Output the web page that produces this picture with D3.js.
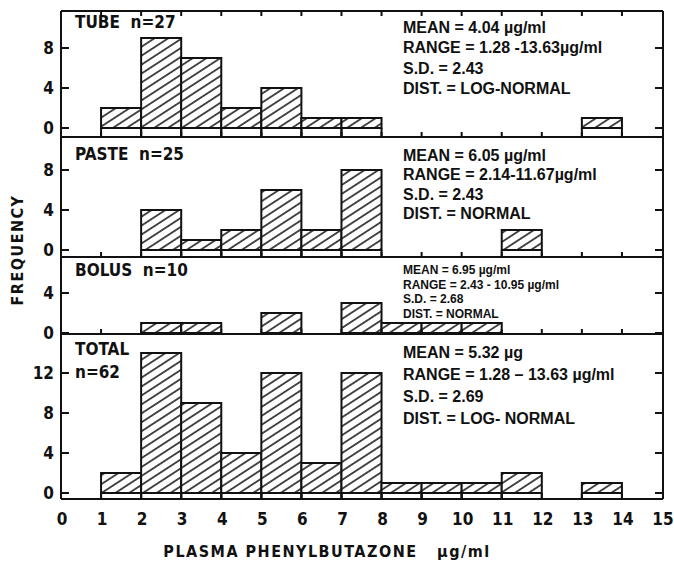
<!DOCTYPE html>
<html>
<head>
<meta charset="utf-8">
<script src="https://cdn.jsdelivr.net/npm/d3@7"></script>
<style>
  body { margin: 0; background: #fff; }
  text { fill: #111; }
  .narrow { font-family: "Liberation Sans Narrow", "DejaVu Sans Condensed", sans-serif; font-weight: bold; }
  .stat { font-family: "Liberation Sans", Arial, sans-serif; font-weight: bold; }
</style>
</head>
<body>
<div id="chart"></div>
<script>
// bin starts (µg/ml), one bar per 1 µg/ml bin
var bins = d3.range(0, 15);
var tube  = [0, 2, 9, 7, 2, 4, 1, 1, 0, 0, 0, 0, 0, 1, 0];
var paste = [0, 0, 4, 1, 2, 6, 2, 8, 0, 0, 0, 2, 0, 0, 0];
var bolus = [0, 0, 1, 1, 0, 2, 0, 3, 1, 1, 1, 0, 0, 0, 0];
var total = [0, 2, 14, 9, 4, 12, 3, 12, 1, 1, 1, 2, 0, 1, 0];

var xTicks = d3.range(0, 16);

var panelNames = ["TUBE  n=27", "PASTE  n=25", "BOLUS  n=10", "TOTAL"];
var panelStats = [
  ["MEAN = 4.04 µg/ml", "RANGE = 1.28 -13.63µg/ml", "S.D. = 2.43", "DIST. = LOG-NORMAL"],
  ["MEAN = 6.05 µg/ml", "RANGE = 2.14-11.67µg/ml", "S.D. = 2.43", "DIST. = NORMAL"],
  ["MEAN = 6.95 µg/ml", "RANGE = 2.43 - 10.95 µg/ml", "S.D. = 2.68", "DIST. = NORMAL"],
  ["MEAN = 5.32 µg", "RANGE = 1.28 – 13.63 µg/ml", "S.D. = 2.69", "DIST. = LOG- NORMAL"]
];
var panelYTicks = [[0, 4, 8], [0, 4, 8], [0, 4], [0, 4, 8, 12]];

var width = 674, height = 566;

// layout of the stacked panels
var panels = [
  { data: tube,  top: 11,  bottom: 137, zero: 128, statY: 27,  statGap: 20.5, statSize: 16, nameY: 28 },
  { data: paste, top: 137, bottom: 257, zero: 250, statY: 155, statGap: 19.5, statSize: 16, nameY: 160 },
  { data: bolus, top: 257, bottom: 334, zero: 333, statY: 270, statGap: 14.5, statSize: 12, nameY: 276 },
  { data: total, top: 334, bottom: 499, zero: 493, statY: 352, statGap: 22, statSize: 16, nameY: 355 }
];

var x = d3.scaleLinear().domain([0, 15]).range([61, 662]);
var left = 61, right = 663;

var svg = d3.select("#chart").append("svg")
    .attr("width", width)
    .attr("height", height);

var defs = svg.append("defs");
var pat = defs.append("pattern")
    .attr("id", "hatch")
    .attr("patternUnits", "userSpaceOnUse")
    .attr("width", 12)
    .attr("height", 7.5)
    .attr("patternTransform", "rotate(-33)");
pat.append("rect").attr("width", 12).attr("height", 7.5).attr("fill", "#fff");
pat.append("line")
    .attr("x1", 0).attr("x2", 12)
    .attr("y1", 3.75).attr("y2", 3.75)
    .attr("stroke", "#111").attr("stroke-width", 1.5);

panels.forEach(function (p, i) {
  var y = d3.scaleLinear().domain([0, 1]).range([p.zero, p.zero - 10]);
  var g = svg.append("g");

  var bars = bins.map(function (b, j) { return { x0: b, v: p.data[j] }; })
    .filter(function (d) { return d.v > 0; });

  // edges drop down to the panel line
  g.selectAll(".edge")
    .data(bars)
    .enter().append("path")
    .attr("d", function (d) {
      return "M" + x(d.x0) + "," + y(0) + "V" + p.bottom +
             "M" + x(d.x0 + 1) + "," + y(0) + "V" + p.bottom;
    })
    .attr("stroke", "#111").attr("stroke-width", 2);

  g.selectAll(".bar")
    .data(bars)
    .enter().append("rect")
    .attr("x", function (d) { return x(d.x0); })
    .attr("width", function (d) { return x(d.x0 + 1) - x(d.x0); })
    .attr("y", function (d) { return y(d.v); })
    .attr("height", function (d) { return y(0) - y(d.v); })
    .attr("fill", "url(#hatch)")
    .attr("stroke", "#111")
    .attr("stroke-width", 2);

  // y ticks, inward on both sides
  var yt = panelYTicks[i];
  g.selectAll(".ytl").data(yt).enter().append("line")
    .attr("x1", left).attr("x2", left + 8)
    .attr("y1", function (d) { return y(d); }).attr("y2", function (d) { return y(d); })
    .attr("stroke", "#111").attr("stroke-width", 2);
  g.selectAll(".ytr").data(yt).enter().append("line")
    .attr("x1", right - 8).attr("x2", right)
    .attr("y1", function (d) { return y(d); }).attr("y2", function (d) { return y(d); })
    .attr("stroke", "#111").attr("stroke-width", 2);
  g.selectAll(".ylab").data(yt).enter().append("text")
    .attr("class", "narrow")
    .attr("x", 54)
    .attr("y", function (d) { return y(d); })
    .attr("dy", "0.36em")
    .attr("text-anchor", "end")
    .style("font-size", "17px")
    .text(function (d) { return d; });

  // panel bottom line with small ticks
  g.append("line")
    .attr("x1", left).attr("x2", right)
    .attr("y1", p.bottom).attr("y2", p.bottom)
    .attr("stroke", "#111").attr("stroke-width", 2);
  g.selectAll(".xt").data(xTicks.slice(1, 15)).enter().append("line")
    .attr("x1", function (d) { return x(d); }).attr("x2", function (d) { return x(d); })
    .attr("y1", p.bottom).attr("y2", p.bottom - 5)
    .attr("stroke", "#111").attr("stroke-width", 2);

  // panel name
  g.append("text")
    .attr("class", "narrow")
    .attr("x", 75).attr("y", p.nameY)
    .style("font-size", "17px")
    .attr("xml:space", "preserve")
    .style("white-space", "pre")
    .text(panelNames[i]);
  if (i === 3) {
    g.append("text")
      .attr("class", "narrow")
      .attr("x", 75).attr("y", p.nameY + 23)
      .style("font-size", "17px")
      .text("n=62");
  }

  // statistics block
  g.selectAll(".stat").data(panelStats[i]).enter().append("text")
    .attr("class", "stat")
    .attr("x", 403)
    .attr("y", function (d, k) { return p.statY + k * p.statGap; })
    .attr("dy", "0.36em")
    .style("font-size", p.statSize + "px")
    .text(function (d) { return d; });
});

// outer frame
svg.append("line").attr("x1", left).attr("x2", left).attr("y1", 11).attr("y2", 499)
  .attr("stroke", "#111").attr("stroke-width", 2);
svg.append("line").attr("x1", right).attr("x2", right).attr("y1", 11).attr("y2", 499)
  .attr("stroke", "#111").attr("stroke-width", 2);
svg.append("line").attr("x1", left).attr("x2", right).attr("y1", 11).attr("y2", 11)
  .attr("stroke", "#111").attr("stroke-width", 2);
svg.selectAll(".tt").data(xTicks.slice(1, 15)).enter().append("line")
  .attr("x1", function (d) { return x(d); }).attr("x2", function (d) { return x(d); })
  .attr("y1", 11).attr("y2", 16)
  .attr("stroke", "#111").attr("stroke-width", 2);

// x axis labels
svg.selectAll(".xlab").data(xTicks).enter().append("text")
  .attr("class", "narrow")
  .attr("x", function (d) { return x(d) + 1; })
  .attr("y", 519)
  .attr("dy", "0.36em")
  .attr("text-anchor", "middle")
  .style("font-size", "17px")
  .text(function (d) { return d; });

svg.append("text")
  .attr("class", "narrow")
  .attr("x", 327).attr("y", 551)
  .attr("dy", "0.36em")
  .attr("text-anchor", "middle")
  .attr("xml:space", "preserve")
  .style("white-space", "pre")
  .style("font-size", "16px")
  .style("letter-spacing", "1.5px")
  .text("PLASMA PHENYLBUTAZONE   µg/ml");

svg.append("text")
  .attr("class", "narrow")
  .attr("transform", "translate(17,250) rotate(-90)")
  .attr("dy", "0.36em")
  .attr("text-anchor", "middle")
  .style("font-size", "16px")
  .style("letter-spacing", "1.5px")
  .text("FREQUENCY");
</script>
</body>
</html>
